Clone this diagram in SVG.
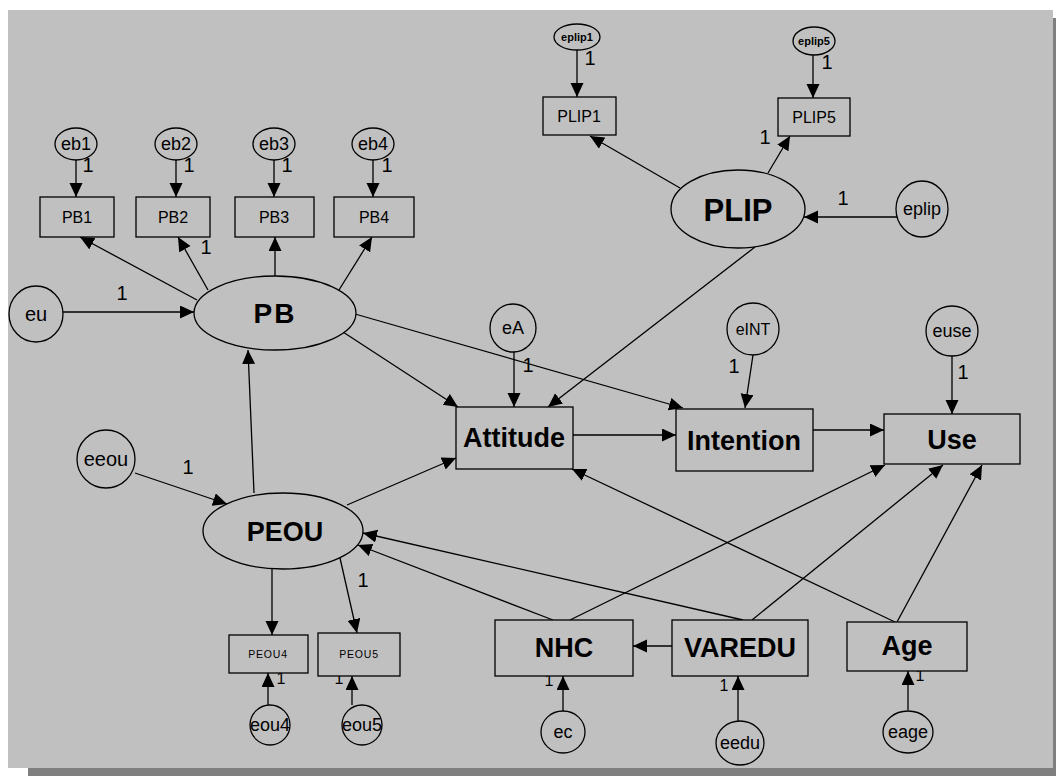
<svg xmlns="http://www.w3.org/2000/svg" width="1056" height="776" viewBox="0 0 1056 776">
  <defs>
    <marker id="arr" markerUnits="userSpaceOnUse" markerWidth="16" markerHeight="14" refX="14" refY="6.5" orient="auto">
      <path d="M0,0 L14,6.5 L0,13 z" fill="#000"/>
    </marker>
    <style>
      .shape { fill: #c0c0c0; stroke: #000; stroke-width: 1.3; }
      .conn line { stroke: #000; stroke-width: 1.3; marker-end: url(#arr); }
      text { font-family: "Liberation Sans", Arial, sans-serif; fill: #000; text-anchor: middle; }
      .big { font-size: 27px; font-weight: bold; }
      .obs { font-size: 16px; }
      .tiny { font-size: 10.5px; letter-spacing: 0.8px; }
      .err { font-size: 18px; }
      .errs { font-size: 11px; font-weight: bold; }
      .one { font-size: 20px; }
      .ones { font-size: 16px; }
    </style>
  </defs>

  <!-- canvas and drop shadow -->
  <rect x="0" y="0" width="1056" height="776" fill="#fff"/>
  <rect x="1052" y="18" width="4" height="758" fill="#7f7f7f"/>
  <rect x="28" y="768" width="1028" height="8" fill="#7f7f7f"/>
  <rect x="8" y="10" width="1045" height="758" fill="#c0c0c0"/>

  <!-- connectors -->
  <g id="connectors" class="conn">
    <line x1="577" y1="50" x2="577" y2="97"/>
    <line x1="813" y1="55" x2="813" y2="98"/>
    <line x1="680" y1="188" x2="590" y2="136"/>
    <line x1="768" y1="173" x2="790" y2="136"/>
    <line x1="897" y1="217" x2="804" y2="217"/>
    <line x1="755" y1="247" x2="548" y2="407"/>
    <line x1="76" y1="160" x2="76" y2="197"/>
    <line x1="176" y1="160" x2="176" y2="197"/>
    <line x1="274" y1="160" x2="274" y2="197"/>
    <line x1="373" y1="160" x2="373" y2="197"/>
    <line x1="197" y1="300" x2="80" y2="237"/>
    <line x1="208" y1="290" x2="178" y2="237"/>
    <line x1="275" y1="276" x2="275" y2="237"/>
    <line x1="339" y1="290" x2="372" y2="237"/>
    <line x1="63" y1="312" x2="194" y2="312"/>
    <line x1="343" y1="332" x2="458" y2="407"/>
    <line x1="355" y1="314" x2="683" y2="408"/>
    <line x1="254" y1="493" x2="248" y2="350"/>
    <line x1="514" y1="352" x2="514" y2="407"/>
    <line x1="753" y1="355" x2="745" y2="408"/>
    <line x1="952" y1="356" x2="952" y2="414"/>
    <line x1="573" y1="435" x2="676" y2="435"/>
    <line x1="813" y1="430" x2="884" y2="430"/>
    <line x1="135" y1="473" x2="227" y2="504"/>
    <line x1="347" y1="505" x2="456" y2="458"/>
    <line x1="272" y1="569" x2="272" y2="635"/>
    <line x1="340" y1="558" x2="357" y2="633"/>
    <line x1="268" y1="705" x2="268" y2="673"/>
    <line x1="352" y1="705" x2="352" y2="676"/>
    <line x1="553" y1="620" x2="358" y2="545"/>
    <line x1="743" y1="620" x2="363" y2="533"/>
    <line x1="570" y1="620" x2="885" y2="465"/>
    <line x1="752" y1="620" x2="943" y2="465"/>
    <line x1="895" y1="622" x2="572" y2="469"/>
    <line x1="897" y1="622" x2="982" y2="465"/>
    <line x1="672" y1="646" x2="633" y2="646"/>
    <line x1="563" y1="711" x2="563" y2="676"/>
    <line x1="738" y1="722" x2="738" y2="676"/>
    <line x1="908" y1="710" x2="908" y2="671"/>
  </g>

  <!-- path coefficients fixed to 1 -->
  <g id="weights">
    <text class="one" x="590" y="65">1</text>
    <text class="one" x="827" y="69">1</text>
    <text class="one" x="765" y="144">1</text>
    <text class="one" x="843" y="205">1</text>
    <text class="one" x="88" y="172">1</text>
    <text class="one" x="189" y="172">1</text>
    <text class="one" x="287" y="172">1</text>
    <text class="one" x="387" y="172">1</text>
    <text class="one" x="206" y="254">1</text>
    <text class="one" x="122" y="300">1</text>
    <text class="one" x="528" y="372">1</text>
    <text class="one" x="734" y="373">1</text>
    <text class="one" x="963" y="379">1</text>
    <text class="one" x="188" y="474">1</text>
    <text class="one" x="363" y="587">1</text>
    <text class="ones" x="281" y="684">1</text>
    <text class="ones" x="339" y="684">1</text>
    <text class="ones" x="549" y="686">1</text>
    <text class="ones" x="724" y="691">1</text>
    <text class="ones" x="920" y="681">1</text>
  </g>

  <!-- PLIP block -->
  <g id="eplip1"><ellipse class="shape" cx="577" cy="37" rx="23" ry="13"/><text class="errs" x="577" y="41">eplip1</text></g>
  <g id="eplip5"><ellipse class="shape" cx="814" cy="41" rx="21" ry="14"/><text class="errs" x="814" y="45">eplip5</text></g>
  <g id="PLIP1"><rect class="shape" x="543" y="97" width="73" height="38"/><text class="obs" x="579" y="122">PLIP1</text></g>
  <g id="PLIP5"><rect class="shape" x="778" y="98" width="72" height="38"/><text class="obs" x="814" y="123">PLIP5</text></g>
  <g id="PLIP"><ellipse class="shape" cx="738" cy="209" rx="67" ry="39"/><text x="738" y="221" font-size="31" font-weight="bold">PLIP</text></g>
  <g id="eplip"><ellipse class="shape" cx="922" cy="209" rx="26" ry="28"/><text class="err" x="922" y="215">eplip</text></g>

  <!-- PB block -->
  <g id="eb1"><ellipse class="shape" cx="76" cy="144" rx="21" ry="16"/><text class="err" x="76" y="150">eb1</text></g>
  <g id="eb2"><ellipse class="shape" cx="176" cy="144" rx="21" ry="16"/><text class="err" x="176" y="150">eb2</text></g>
  <g id="eb3"><ellipse class="shape" cx="274" cy="144" rx="21" ry="16"/><text class="err" x="274" y="150">eb3</text></g>
  <g id="eb4"><ellipse class="shape" cx="373" cy="144" rx="21" ry="16"/><text class="err" x="373" y="150">eb4</text></g>
  <g id="PB1"><rect class="shape" x="40" y="197" width="74" height="40"/><text class="obs" x="77" y="223">PB1</text></g>
  <g id="PB2"><rect class="shape" x="136" y="197" width="74" height="40"/><text class="obs" x="173" y="223">PB2</text></g>
  <g id="PB3"><rect class="shape" x="235" y="197" width="79" height="40"/><text class="obs" x="274" y="223">PB3</text></g>
  <g id="PB4"><rect class="shape" x="334" y="197" width="80" height="40"/><text class="obs" x="374" y="223">PB4</text></g>
  <g id="PB"><ellipse class="shape" cx="275" cy="313" rx="81" ry="37"/><text x="275" y="323" font-size="28" font-weight="bold" letter-spacing="2">PB</text></g>
  <g id="eu"><ellipse class="shape" cx="36" cy="314" rx="27" ry="28"/><text x="36" y="321" font-size="20">eu</text></g>

  <!-- structural part -->
  <g id="eA"><ellipse class="shape" cx="513" cy="328" rx="23" ry="24"/><text class="err" x="513" y="334">eA</text></g>
  <g id="eINT"><ellipse class="shape" cx="753" cy="329" rx="26" ry="26"/><text x="753" y="335" font-size="16">eINT</text></g>
  <g id="euse"><ellipse class="shape" cx="952" cy="331" rx="26" ry="25"/><text class="err" x="952" y="337">euse</text></g>
  <g id="Attitude"><rect class="shape" x="456" y="407" width="117" height="62"/><text class="big" x="514" y="447">Attitude</text></g>
  <g id="Intention"><rect class="shape" x="676" y="409" width="137" height="62"/><text class="big" x="744" y="450">Intention</text></g>
  <g id="Use"><rect class="shape" x="884" y="414" width="136" height="50"/><text class="big" x="952" y="449">Use</text></g>

  <!-- PEOU block -->
  <g id="eeou"><ellipse class="shape" cx="106" cy="459" rx="29" ry="29"/><text x="106" y="466" font-size="20">eeou</text></g>
  <g id="PEOU"><ellipse class="shape" cx="283" cy="531" rx="80" ry="38"/><text x="285" y="541" font-size="27" font-weight="bold">PEOU</text></g>
  <g id="PEOU4"><rect class="shape" x="229" y="635" width="79" height="38"/><text class="tiny" x="268" y="658">PEOU4</text></g>
  <g id="PEOU5"><rect class="shape" x="318" y="633" width="82" height="43"/><text class="tiny" x="359" y="658">PEOU5</text></g>
  <g id="eou4"><ellipse class="shape" cx="270" cy="725" rx="20" ry="20"/><text class="err" x="270" y="731">eou4</text></g>
  <g id="eou5"><ellipse class="shape" cx="362" cy="725" rx="20" ry="20"/><text class="err" x="362" y="731">eou5</text></g>

  <!-- background variables -->
  <g id="NHC"><rect class="shape" x="495" y="620" width="138" height="56"/><text class="big" x="564" y="657">NHC</text></g>
  <g id="VAREDU"><rect class="shape" x="672" y="620" width="136" height="56"/><text class="big" x="740" y="657">VAREDU</text></g>
  <g id="Age"><rect class="shape" x="847" y="622" width="120" height="49"/><text class="big" x="907" y="655">Age</text></g>
  <g id="ec"><ellipse class="shape" cx="563" cy="732" rx="22" ry="21"/><text class="err" x="563" y="738">ec</text></g>
  <g id="eedu"><ellipse class="shape" cx="740" cy="743" rx="24" ry="22"/><text class="err" x="740" y="749">eedu</text></g>
  <g id="eage"><ellipse class="shape" cx="908" cy="732" rx="25" ry="21"/><text class="err" x="908" y="738">eage</text></g>
</svg>
